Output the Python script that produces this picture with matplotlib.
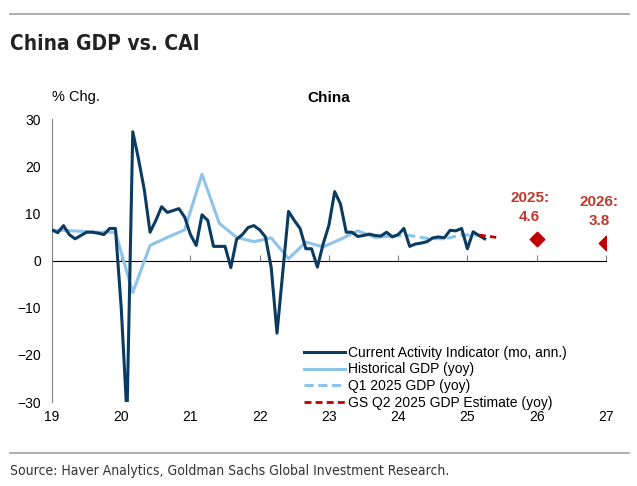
import matplotlib.pyplot as plt
import matplotlib.lines as mlines
import numpy as np

# CAI, monthly, Jan 2019 - Apr 2025 (% mo, ann.)
cai = [6.5, 5.9, 7.4, 5.5, 4.6, 5.3, 6.0, 6.0, 5.8, 5.5, 6.8, 6.8,
       -10.0, -33.0, 27.3, 21.5, 15.0, 6.0, 8.5, 11.4, 10.2, 10.6, 11.0, 9.2,
       5.5, 3.2, 9.7, 8.5, 3.0, 3.0, 3.0, -1.5, 4.5, 5.5, 7.0, 7.4,
       6.5, 5.0, -1.5, -15.4, -2.5, 10.4, 8.5, 6.8, 2.5, 2.5, -1.4, 3.5,
       7.5, 14.6, 12.0, 6.0, 6.0, 5.1, 5.3, 5.6, 5.3, 5.2, 6.0, 5.0,
       5.5, 6.8, 3.0, 3.5, 3.7, 4.0, 4.8, 5.0, 4.8, 6.4, 6.3, 6.8,
       2.5, 6.1, 5.3, 4.6]

# Real GDP yoy, quarterly Q4 2018 - Q4 2023 (plotted at quarter-end month)
gdp_q = ['2018Q4', '2019Q1', '2019Q2', '2019Q3', '2019Q4',
         '2020Q1', '2020Q2', '2020Q3', '2020Q4',
         '2021Q1', '2021Q2', '2021Q3', '2021Q4',
         '2022Q1', '2022Q2', '2022Q3', '2022Q4',
         '2023Q1', '2023Q2', '2023Q3', '2023Q4']
gdp = [6.4, 6.4, 6.2, 6.0, 6.0,
       -6.8, 3.2, 4.9, 6.5,
       18.3, 7.9, 4.9, 4.0,
       4.8, 0.4, 3.9, 2.9,
       4.5, 6.3, 4.9, 5.2]

q1_q = ['2023Q4', '2024Q1', '2024Q2', '2024Q3', '2024Q4', '2025Q1']
q1_gdp = [5.2, 5.3, 4.7, 4.6, 5.4, 5.4]

gs_q = ['2025Q1', '2025Q2']
gs_gdp = [5.4, 4.9]

fc_years = [2025, 2026]
fc_vals = [4.6, 3.8]

def qpos(q):
    y, n = int(q[:4]), int(q[-1])
    return y + (3 * n - 1) / 12.0

cai_x = 2019 + np.arange(len(cai)) / 12.0

navy = '#0B3B60'
light = '#8EC3EA'
red = '#C00000'

fig = plt.figure(figsize=(6.37, 4.86), dpi=100)
plt.rcParams['font.family'] = ['Liberation Sans', 'DejaVu Sans']
ax = fig.add_axes([0.0816, 0.1728, 0.8695, 0.5823])

ax.plot(cai_x, cai, color=navy, lw=2.2, zorder=4, clip_on=True)
ax.plot([qpos(q) for q in gdp_q], gdp, color=light, lw=2.2, zorder=3)
ax.plot([qpos(q) for q in q1_q], q1_gdp, color=light, lw=2.2, ls=(0, (3, 1.5)), zorder=3)
ax.plot([qpos(q) for q in gs_q], gs_gdp, color=red, lw=2.0, ls=(0, (2.5, 1.5)), zorder=5)
ax.scatter([y + 1 for y in fc_years], fc_vals, marker='D', s=55, color=red, zorder=6)
for y, v in zip(fc_years, fc_vals):
    ax.text(y + 1 - 0.1, v + 3.2, f'{y}:\n{v}', color='#C0392B', ha='center', va='bottom',
            fontsize=11, fontweight='bold', linespacing=1.4)

ax.set_xlim(2019, 2027)
ax.set_ylim(-30, 30)
ax.set_yticks(np.arange(-30, 31, 10))
ax.set_xticks(np.arange(2019, 2028))
ax.set_xticklabels([str(y)[2:] for y in range(2019, 2028)])
ax.tick_params(axis='x', length=0, labelsize=10, pad=6)
ax.tick_params(axis='y', length=0, labelsize=10, pad=8)
for s in ['top', 'right', 'bottom']:
    ax.spines[s].set_visible(False)
ax.spines['left'].set_color('#808080')
ax.spines['left'].set_linewidth(0.8)

zero = ax.secondary_xaxis(0.5)
zero.set_xticks(np.arange(2020, 2028))
zero.set_xticklabels([])
zero.spines['bottom'].set_color('#808080')
zero.spines['bottom'].set_linewidth(0.8)
zero.tick_params(axis='x', direction='out', length=4, color='#808080', width=0.8)

ax.set_title('China', fontsize=11, fontweight='bold', pad=12)
fig.text(52 / 637, 1 - 97 / 486, '% Chg.', fontsize=10.5, ha='left', va='center')

handles = [mlines.Line2D([], [], color=navy, lw=2.2),
           mlines.Line2D([], [], color=light, lw=2.2),
           mlines.Line2D([], [], color=light, lw=2.2, ls=(0, (3, 1.5))),
           mlines.Line2D([], [], color=red, lw=2.0, ls=(0, (2.5, 1.5)))]
labels = ['Current Activity Indicator (mo, ann.)', 'Historical GDP (yoy)',
          'Q1 2025 GDP (yoy)', 'GS Q2 2025 GDP Estimate (yoy)']
ax.legend(handles, labels, loc='lower left', bbox_to_anchor=(0.4446, -0.048), frameon=False,
          fontsize=10, handlelength=3.0, handletextpad=0.2, labelspacing=0.2, borderaxespad=0)

fig.add_artist(mlines.Line2D([0.016, 0.988], [1 - 14 / 486] * 2, color='#A0A0A0', lw=1.2))
fig.add_artist(mlines.Line2D([0.016, 0.988], [1 - 453 / 486] * 2, color='#A0A0A0', lw=1.2))
fig.text(0.016, 1 - 44 / 486, 'China GDP vs. CAI', fontsize=15, fontweight='bold',
         family='DejaVu Sans', fontstretch='condensed', va='center', color='#222222')
fig.text(0.016, 1 - 471 / 486, 'Source: Haver Analytics, Goldman Sachs Global Investment Research.',
         fontsize=10, family='DejaVu Sans', fontstretch='condensed', va='center', color='#333333')

fig.savefig('out.png', dpi=100)
